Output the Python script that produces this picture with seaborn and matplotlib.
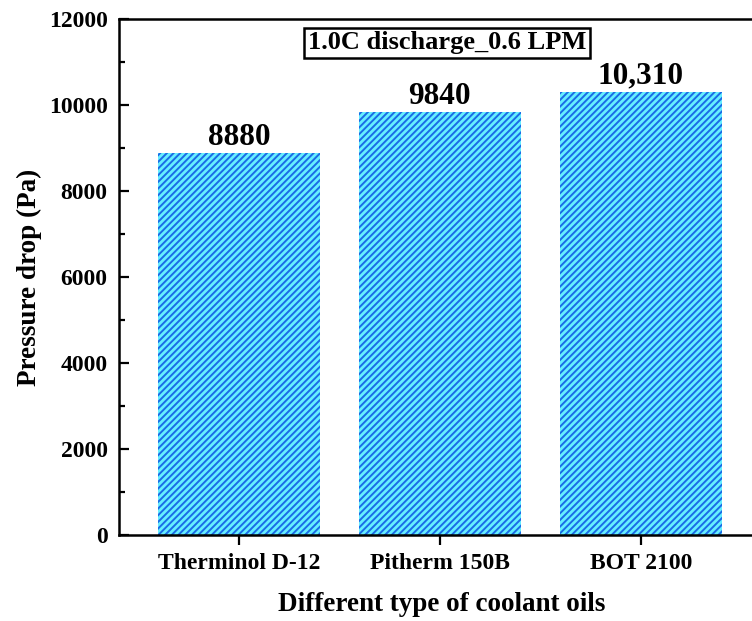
import matplotlib
matplotlib.use("Agg")
import matplotlib.pyplot as plt
from matplotlib.ticker import MultipleLocator
import seaborn as sns
import pandas as pd

categories = ["Therminol D-12", "Pitherm 150B", "BOT 2100"]
pressure_drop = [8880, 9840, 10310]
bar_labels = ["8880", "9840", "10,310"]
yticks = [0, 2000, 4000, 6000, 8000, 10000, 12000]

sns.set_theme(style="ticks")
plt.rcParams["font.family"] = ["Liberation Serif", "DejaVu Serif"]
plt.rcParams["font.weight"] = "bold"
plt.rcParams["hatch.linewidth"] = 1.4
for k in ["text.color", "axes.labelcolor", "xtick.color", "ytick.color",
          "axes.edgecolor"]:
    plt.rcParams[k] = "black"

df = pd.DataFrame({"oil": categories, "dp": pressure_drop})

fig = plt.figure(figsize=(7.52, 6.21), dpi=100)
ax = fig.add_axes([0.158, 0.1385, 0.842, 0.8309])

sns.barplot(data=df, x="oil", y="dp", ax=ax, color="#66eeff", saturation=1,
            width=0.806, errorbar=None)
for p in ax.patches:
    p.set_facecolor("#66eeff")
    p.set_edgecolor("#1a6be6")
    p.set_hatch("/////")
    p.set_linewidth(0)

for i, (v, lab) in enumerate(zip(pressure_drop, bar_labels)):
    ax.text(i, v + 20, lab, ha="center", va="bottom", fontsize=22.5,
            fontweight="bold", color="black")

ax.set_xlim(-0.597, 2.552)
ax.set_ylim(0, 12000)
ax.set_yticks(yticks)
ax.yaxis.set_minor_locator(MultipleLocator(1000))
ax.set_yticklabels([str(t) for t in yticks], fontsize=17, fontweight="bold")
ax.set_xticks(range(len(categories)))
ax.set_xticklabels(categories, fontsize=17, fontweight="bold")
ax.tick_params(axis="x", which="major", direction="out", length=7, width=1.6,
               color="black", labelcolor="black", pad=6)
ax.tick_params(axis="y", which="major", direction="in", length=7, width=1.6,
               color="black", labelcolor="black", pad=8)
ax.tick_params(axis="y", which="minor", direction="in", length=4, width=1.6,
               color="black")
ax.set_xlabel("Different type of coolant oils", fontsize=19.5, fontweight="bold",
              labelpad=14, color="black")
ax.xaxis.set_label_coords(0.51, -0.11)
ax.set_ylabel("Pressure drop (Pa)", fontsize=19.5, fontweight="bold", labelpad=5,
              color="black")

for s in ["left", "bottom", "top"]:
    ax.spines[s].set_linewidth(1.8)
    ax.spines[s].set_color("black")
ax.spines["right"].set_visible(False)

ax.text(0.518, 0.9535, "1.0C discharge_0.6 LPM", transform=ax.transAxes,
        ha="center", va="center", fontsize=19, fontweight="bold", color="black",
        bbox=dict(boxstyle="square,pad=0.15", facecolor="white",
                  edgecolor="black", linewidth=1.8))

fig.savefig("out.png", dpi=100)
